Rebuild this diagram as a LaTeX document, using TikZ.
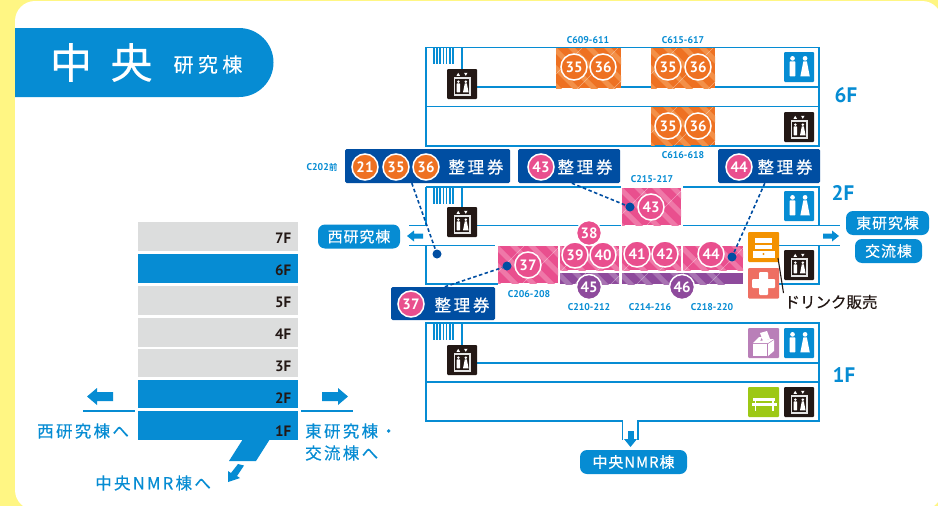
\documentclass[tikz,border=0pt]{standalone}
\usepackage{fontspec}
\setmainfont[FakeBold=0.35]{Noto Sans CJK JP}
\newfontfamily\din{PT Sans}
\usetikzlibrary{arrows.meta}
\definecolor{ybg}{HTML}{FFF683}
\definecolor{cblue}{HTML}{068CD3}
\definecolor{navy}{HTML}{004EA2}
\definecolor{orgA}{HTML}{EE7122}
\definecolor{orgB}{HTML}{F39048}
\definecolor{pnkA}{HTML}{E94F8E}
\definecolor{pnkB}{HTML}{EF78A8}
\definecolor{purA}{HTML}{8E4A9C}
\definecolor{purB}{HTML}{A873B2}
\definecolor{darkbox}{HTML}{231815}
\definecolor{grayf}{HTML}{DCDDDD}
\definecolor{vendor}{HTML}{F39200}
\definecolor{aidred}{HTML}{EE6F62}
\definecolor{ballot}{HTML}{B97FB8}
\definecolor{bench}{HTML}{9DC815}
\tikzset{
 x=1pt,y=-1pt,
 wall/.style={draw=cblue,line width=1.9pt,line cap=butt},
 numc/.style={circle,inner sep=0pt,draw=white,line width=1.5pt,text=white,font=\din\bfseries\fontsize{15}{15}\selectfont,minimum size=#1},
 numc/.default=26pt,
 ticket/.style={draw=none,fill=navy,rounded corners=1.5pt},
 tickettext/.style={text=white,font=\fontsize{16.5}{17}\selectfont,inner sep=0pt},
 room/.style={text=cblue,font=\din\bfseries\fontsize{9.8}{10}\selectfont,inner sep=0pt},
 flr/.style={text=cblue,font=\din\bfseries\fontsize{21}{21}\selectfont,inner sep=0pt},
 bar/.style={text=darkbox,anchor=east,font=\din\bfseries\fontsize{15}{15}\selectfont,inner sep=0pt},
 pill/.style={fill=cblue,rounded corners=7pt,text=white,font=\fontsize{15}{16}\selectfont\addfontfeature{LetterSpace=6},inner sep=0pt,align=center},
 bluetext/.style={text=cblue,font=\fontsize{16.5}{18}\selectfont\addfontfeature{LetterSpace=14},inner sep=0pt,anchor=west},
 dotn/.style={circle,fill=navy,inner sep=0pt,minimum size=9pt},
 dashc/.style={draw=navy,line width=1.6pt,dash pattern=on 3.5pt off 2.5pt},
}
% hatch: x1 y1 x2 y2 base light
\newcommand{\hatchbox}[6]{%
 \begin{scope}
 \clip (#1,#2) rectangle (#3,#4);
 \fill[#5] (#1,#2) rectangle (#3,#4);
 \foreach \s in {-60,-42,...,90}{
  \fill[#6] ({#1+\s},#2) -- ({#1+\s+7},#2) -- ({#1+\s+7+60},{#2+60}) -- ({#1+\s+60},{#2+60}) -- cycle;
 }
 \foreach \s in {-10,26,...,120}{
  \draw[white,opacity=.4,line width=.5pt] ({#1+\s},#2) -- ({#1+\s-60},{#2+60});
 }
 \end{scope}}
\newcommand{\figs}[3]{% x y scale
 \begin{scope}[shift={(#1,#2)},scale=#3]
  \fill[white] (-6.6,-8.3) circle (2.4);
  \fill[white,rounded corners=.6pt] (-9.6,-5.2) rectangle (-3.6,10);
  \fill[white] (6.2,-8.3) circle (2.4);
  \fill[white] (4.4,-5.2) -- (8,-5.2) -- (11,10) -- (1.4,10) -- cycle;
 \end{scope}}
\newcommand{\toiletbox}[2]{% top-left
 \fill[cblue,rounded corners=1pt] (#1,#2) rectangle ++(30,30);
 \figs{#1+15}{#2+14.5}{0.98}}
\newcommand{\elevbox}[2]{%
 \fill[darkbox,rounded corners=1pt] (#1,#2) rectangle ++(30,30);
 \draw[white!80!gray,line width=1.1pt] ({#1+7.5},{#2+9}) rectangle ({#1+23},{#2+26});
 \fill[white] ({#1+9.5},{#2+6.8}) -- ({#1+13},{#2+6.8}) -- ({#1+11.2},{#2+3.8}) -- cycle;
 \fill[white] ({#1+17},{#2+3.8}) -- ({#1+20.5},{#2+3.8}) -- ({#1+18.8},{#2+6.8}) -- cycle;
 \figs{#1+15.2}{#2+17.5}{0.58}}
\newcommand{\stairs}[2]{%
 \foreach \i in {0,...,6}{\fill[cblue] ({#1+\i*3.2},#2) rectangle ({#1+\i*3.2+1.6},{#2+16});}}
\begin{document}
\begin{tikzpicture}
\useasboundingbox (0,0) rectangle (938,506);
\fill[ybg] (0,0) rectangle (938,506);
\fill[white,rounded corners=20pt] (15,1) rectangle (942,510);
% title
\fill[cblue] (15,28) -- (239,28) arc[start angle=-90,end angle=90,radius=34.5] -- (15,97) -- cycle;
\node[inner sep=0pt,text=white,font=\fontsize{42}{42}\selectfont] (t1) at (71,62.5) {中};
\node[inner sep=0pt,text=white,font=\fontsize{42}{42}\selectfont] (t2) at (131.5,62.5) {央};
\node[inner sep=0pt,text=white,font=\fontsize{20}{20}\selectfont\addfontfeature{LetterSpace=22}] (t3) at (208,64.5) {研究棟};
% floor bars
\foreach \a/\b/\c/\l/\m in {222/251/grayf/7F/238,254/283/cblue/6F/270,286/315/grayf/5F/302,318/347/grayf/4F/334,349/377/grayf/3F/366,380/408/cblue/2F/398,411/440/cblue/1F/431}{
 \fill[\c] (138,\a) rectangle (298,\b);
 \node[bar] (bar\l) at (291.5,\m) {\l};
}
\fill[cblue] (243,439) -- (270,439) -- (256,461) -- (229,461) -- cycle;
\draw[wall] (83,410.7) -- (135,410.7);
\draw[wall] (301,410.7) -- (353,410.7);
\fill[cblue] (113,392) -- (97,392) -- (97,388) -- (87,396.5) -- (97,405) -- (97,401) -- (113,401) -- cycle;
\fill[cblue] (322,392) -- (338,392) -- (338,388) -- (348,396.5) -- (338,405) -- (338,401) -- (322,401) -- cycle;
\fill[cblue] (238,464) -- (244,465.5) -- (237,476) -- (240,478) -- (228,482) -- (228,471) -- (231,473) -- cycle;
\node[bluetext] (w1) at (37,431) {西研究棟へ};
\node[bluetext] (e1) at (305,431) {東研究棟・};
\node[bluetext] (e2) at (305,453) {交流棟へ};
\node[bluetext] (n1) at (95,483) {中央NMR棟へ};
% 6F
\draw[wall] (426,47.5) rectangle (819,146);
\draw[wall] (426,106.5) -- (819,106.5);
\draw[wall] (477,87) -- (819,87);
\draw[wall] (462,47.5) -- (462,70);
\stairs{433}{48}
\hatchbox{556}{48}{621}{88}{orgA}{orgB}
\hatchbox{651}{48}{715}{88}{orgA}{orgB}
\hatchbox{651}{107}{715}{145}{orgA}{orgB}
\elevbox{447}{69}
\toiletbox{784}{52}
\elevbox{784}{112}
\node[numc,fill=orgA] (a1) at (574,67) {35};
\node[numc,fill=orgA] (a2) at (603,67) {36};
\node[numc,fill=orgA] (a3) at (668,67) {35};
\node[numc,fill=orgA] (a4) at (698,67) {36};
\node[numc,fill=orgA] (a5) at (668,126) {35};
\node[numc,fill=orgA] (a6) at (698,126) {36};
\node[room] (r1) at (588,40) {C609-611};
\node[room] (r2) at (683,40) {C615-617};
\node[room] (r3) at (683,155) {C616-618};
\node[flr] (f6) at (846,95) {6F};
% 2F walls
\draw[wall] (426,187) -- (426,225.5) -- (409,225.5);
\draw[wall] (409,245.5) -- (495,245.5);
\draw[wall] (426,245.5) -- (426,284) -- (498,284);
\draw[wall] (426,187) -- (621,187);
\draw[wall] (683,187) -- (819,187) -- (819,225.5);
\draw[wall] (477,225.5) -- (621,225.5);
\draw[wall] (683,225.5) -- (840,225.5);
\draw[wall] (748,245.5) -- (840,245.5);
\draw[wall] (819,245.5) -- (819,284) -- (776,284);
\draw[wall] (462,187) -- (462,208);
\stairs{433}{188}
\hatchbox{622}{188}{681}{225}{pnkA}{pnkB}
\hatchbox{498}{246}{558}{283}{pnkA}{pnkB}
\hatchbox{560}{246}{619}{270}{pnkA}{pnkB}
\hatchbox{622}{246}{681}{270}{pnkA}{pnkB}
\hatchbox{683}{246}{743}{270}{pnkA}{pnkB}
\hatchbox{560}{273}{619}{284}{purA}{purB}
\hatchbox{622}{273}{743}{284}{purA}{purB}
\elevbox{447}{207}
\toiletbox{784}{191}
\elevbox{784}{250}
% vending
\fill[vendor,rounded corners=1pt] (748,232) rectangle (779,262);
\fill[white] (755,238) rectangle (772,243);
\fill[white] (755,244.5) rectangle (772,249);
\fill[white] (753,250.5) rectangle (775,258);
\fill[vendor] (763.5,254) circle (1.2);
% aid
\fill[aidred,rounded corners=1pt] (748,268) rectangle (779,298.5);
\fill[white,rounded corners=1pt] (759,272) rectangle (768,295);
\fill[white,rounded corners=1pt] (752,279) rectangle (775,288);
\coordinate (vm) at (778,258);
\coordinate (dt) at (783.5,293);
\draw[darkbox,line width=1.1pt] (vm) -- (dt);
\node[inner sep=0pt,text=darkbox,font=\fontsize{15.5}{16}\selectfont] (dr) at (831,302) {ドリンク販売};
% corridor labels
\fill[cblue] (423,233.5) -- (414,233.5) -- (414,230.5) -- (407,236) -- (414,241.5) -- (414,238.5) -- (423,238.5) -- cycle;
\fill[cblue] (823,233.5) -- (832,233.5) -- (832,230.5) -- (839,236) -- (832,241.5) -- (832,238.5) -- (823,238.5) -- cycle;
\node[pill,minimum width=82pt,minimum height=24pt] (wb) at (359,236.5) {西研究棟};
\node[pill,minimum width=83pt,minimum height=24pt] (eb) at (887.5,223) {東研究棟};
\node[pill,minimum width=67pt,minimum height=24pt] (kb) at (888.5,251) {交流棟};
% dots
\node[dotn] (d1) at (437,254) {};
\node[dotn] (d2) at (507,266) {};
\node[dotn] (d3) at (630,207) {};
\node[dotn] (d4) at (732,257) {};
% tickets
\node[ticket,minimum width=165pt,minimum height=34pt] (ta) at (427.5,166) {};
\node[ticket,minimum width=102pt,minimum height=34pt] (tb) at (569,166) {};
\node[ticket,minimum width=102pt,minimum height=34pt] (tc) at (769,166) {};
\node[ticket,minimum width=104pt,minimum height=33pt] (td) at (443,303.5) {};
\draw[dashc] (ta.south west)++(67,0) -- (d1);
\draw[dashc] (tb.south west)++(54,0) -- (d3);
\draw[dashc] (tc.south west)++(47,0) -- (d4);
\draw[dashc] (td.north west)++(54,0) -- (d2);
\node[numc,fill=orgA] (b1) at (365,167) {21};
\node[numc,fill=orgA] (b2) at (396,167) {35};
\node[numc,fill=orgA] (b3) at (426,167) {36};
\node[tickettext] (tt1) at (476,167) {整\,理\,券};
\node[numc,fill=pnkA] (b4) at (541,167) {43};
\node[tickettext] (tt2) at (585,167) {整\,理\,券};
\node[numc,fill=pnkA] (b5) at (739,167) {44};
\node[tickettext] (tt3) at (785,167) {整\,理\,券};
\node[numc,fill=pnkA] (b6) at (411,304) {37};
\node[tickettext] (tt4) at (462,305) {整\,理\,券};
% numbers on 2F
\node[numc=25pt,fill=pnkA] (c0) at (589,233) {38};
\node[numc,fill=pnkA] (c1) at (575,255) {39};
\node[numc,fill=pnkA] (c2) at (603,255) {40};
\node[numc,fill=pnkA] (c3) at (637,254) {41};
\node[numc,fill=pnkA] (c4) at (665,254) {42};
\node[numc,fill=pnkA] (c5) at (711,254) {44};
\node[numc,fill=pnkA] (c6) at (528,265) {37};
\node[numc,fill=pnkA] (c7) at (651,207) {43};
\node[numc=25pt,fill=purA] (c8) at (589,287) {45};
\node[numc=25pt,fill=purA] (c9) at (682,287) {46};
\node[room] (r4) at (529,294) {C206-208};
\node[room] (r5) at (589,307) {C210-212};
\node[room] (r6) at (650,307) {C214-216};
\node[room] (r7) at (712,307) {C218-220};
\node[room] (r8) at (652,179) {C215-217};
\node[room] (r9) at (322,167) {C202{\normalfont\fontsize{8.5}{9}\selectfont 前}};
\node[flr] (f2) at (843,193) {2F};
% 1F
\draw[wall] (622.5,440) -- (622.5,421) -- (426,421) -- (426,323) -- (819,323) -- (819,421) -- (638,421) -- (638,440);
\draw[wall] (426,382) -- (819,382);
\draw[wall] (477,363) -- (819,363);
\draw[wall] (462,323) -- (462,345);
\stairs{433}{324}
\elevbox{447}{345}
\toiletbox{784}{328}
\elevbox{784}{387}
% ballot
\fill[ballot,rounded corners=1pt] (748,328) rectangle (779,358);
\fill[white] (760,333) -- (767,331) -- (770,339) -- (763,341) -- cycle;
\fill[white] (753,343) -- (759,337) -- (762,337) -- (760,341) -- (770,339) -- (774,339) -- (768,343) -- cycle;
\fill[white] (753,344) rectangle (767,356);
\fill[white] (768,344) -- (774,340) -- (774,351) -- (768,356) -- cycle;
% bench
\fill[bench,rounded corners=1pt] (748,387) rectangle (779,417);
\fill[white] (753,398) rectangle (775,401);
\fill[white] (752,403) rectangle (777,406);
\fill[white] (754.5,398) rectangle (756,411);
\fill[white] (772,398) rectangle (773.5,411);
\fill[cblue] (627.5,431) rectangle (633.5,440);
\fill[cblue] (624,439) -- (637,439) -- (630.5,447) -- cycle;
\node[pill,minimum width=107pt,minimum height=24pt] (nb) at (633.5,462) {中央NMR棟};
\node[flr] (f1) at (844,375) {1F};
\end{tikzpicture}
\end{document}
